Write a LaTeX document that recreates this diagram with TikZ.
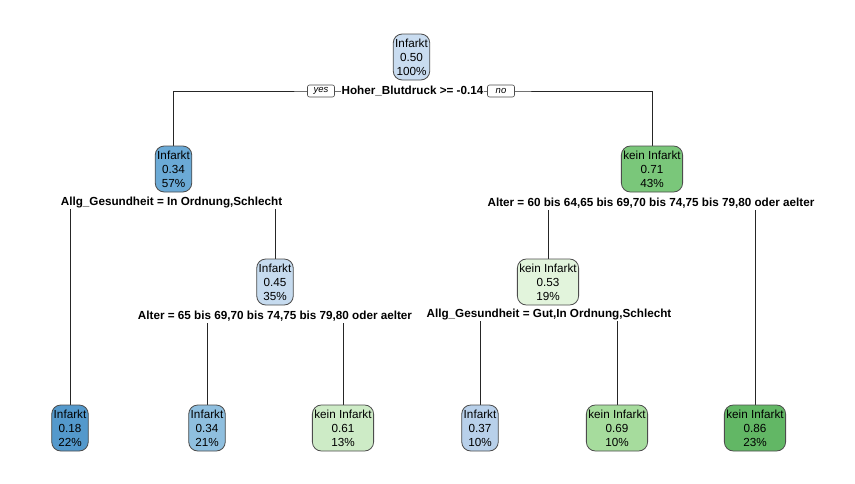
\documentclass[tikz,border=0pt]{standalone}
\usepackage{fontspec}
\setmainfont{Liberation Sans}
\usetikzlibrary{backgrounds}
\definecolor{cRoot}{HTML}{C9DCF0}
\definecolor{cBlueA}{HTML}{6BAAD6}
\definecolor{cBlueB}{HTML}{C6DBEF}
\definecolor{cBlueC}{HTML}{5499CC}
\definecolor{cBlueD}{HTML}{8FBFDF}
\definecolor{cBlueE}{HTML}{B8D0EA}
\definecolor{cGreenA}{HTML}{7AC77A}
\definecolor{cGreenB}{HTML}{E2F4DC}
\definecolor{cGreenC}{HTML}{CDEBC6}
\definecolor{cGreenD}{HTML}{A6DC9D}
\definecolor{cGreenE}{HTML}{62B765}
\tikzset{
  treenode/.style={draw=black!70, line width=0.8pt, rounded corners=9pt,
    align=center, inner xsep=2pt, inner ysep=1.5pt, minimum height=46pt,
    font=\fontsize{11.7}{14}\selectfont},
  splitlabel/.style={fill=white, inner xsep=1pt, inner ysep=1.5pt,
    font=\fontsize{11.7}{13}\selectfont\bfseries},
  yesno/.style={draw=black!70, line width=0.6pt, rounded corners=2pt, fill=white,
    inner xsep=2pt, inner ysep=0pt, minimum width=27pt, minimum height=12pt,
    font=\fontsize{9.5}{10}\selectfont\itshape},
  branch/.style={draw=black!85, line width=0.5pt}
}
\begin{document}
\begin{tikzpicture}[x=1pt,y=-1pt]
\useasboundingbox (0,0) rectangle (855,483);

% inner nodes
\node[treenode, fill=cRoot]   (n1) at (411.5,57)  {Infarkt\\0.50\\100\%};
\node[treenode, fill=cBlueA]  (n2) at (173.5,169) {Infarkt\\0.34\\57\%};
\node[treenode, fill=cGreenA] (n3) at (652,169)   {kein Infarkt\\0.71\\43\%};
\node[treenode, fill=cBlueB]  (n5) at (275,282)   {Infarkt\\0.45\\35\%};
\node[treenode, fill=cGreenB] (n6) at (548,282)   {kein Infarkt\\0.53\\19\%};

% leaves
\node[treenode, fill=cBlueC]  (l1) at (70,428)  {Infarkt\\0.18\\22\%};
\node[treenode, fill=cBlueD]  (l2) at (207,428) {Infarkt\\0.34\\21\%};
\node[treenode, fill=cGreenC] (l3) at (343,428) {kein Infarkt\\0.61\\13\%};
\node[treenode, fill=cBlueE]  (l4) at (480,428) {Infarkt\\0.37\\10\%};
\node[treenode, fill=cGreenD] (l5) at (617,428) {kein Infarkt\\0.69\\10\%};
\node[treenode, fill=cGreenE] (l6) at (755,428) {kein Infarkt\\0.86\\23\%};

% split labels
\node[splitlabel] (s1) at (412.5,91) {Hoher\_Blutdruck >= -0.14};
\node[yesno] (yes) at (321,91) {yes};
\node[yesno] (no)  at (501,91) {no};
\node[splitlabel] (s2) at (171.5,202) {Allg\_Gesundheit = In Ordnung,Schlecht};
\node[splitlabel] (s3) at (651,203) {Alter = 60 bis 64,65 bis 69,70 bis 74,75 bis 79,80 oder aelter};
\node[splitlabel] (s5) at (275,316) {Alter = 65 bis 69,70 bis 74,75 bis 79,80 oder aelter};
\node[splitlabel] (s6) at (549,314) {Allg\_Gesundheit = Gut,In Ordnung,Schlecht};

% branches, drawn beneath the labels
\begin{scope}[on background layer]
  \draw[branch] (n2.north) |- (s1.center) -| (n3.north);
  \draw[branch] (l1.north) |- (s2.center) -| (n5.north);
  \draw[branch] (n6.north) |- (s3.center) -| (l6.north);
  \draw[branch] (l2.north) |- (s5.center) -| (l3.north);
  \draw[branch] (l4.north) |- (s6.center) -| (l5.north);
\end{scope}
\end{tikzpicture}
\end{document}
